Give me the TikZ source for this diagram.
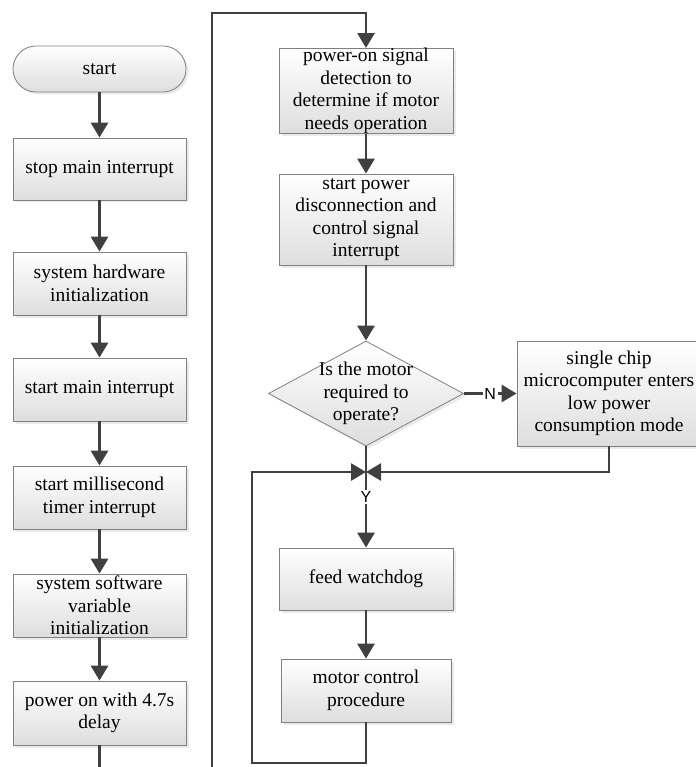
\documentclass[tikz,border=0pt]{standalone}
\usepackage{fontspec}
\setmainfont{Liberation Serif}
\newfontfamily\lblfont{Liberation Sans}
\usetikzlibrary{arrows.meta,shapes.geometric,shadows,calc}
\begin{document}
\begin{tikzpicture}[x=1pt,y=-1pt,
  boxfill/.style={draw=black!50, line width=0.8pt, top color=white, bottom color=black!13,
    drop shadow={shadow xshift=2.5pt,shadow yshift=-2.5pt,fill=black!16}},
  box/.style={boxfill, align=center, inner xsep=2pt, inner ysep=0pt,
    font=\fontsize{19.5}{22.5}\selectfont},
  dshape/.style={boxfill, shape=diamond, inner sep=0pt},
  txt/.style={align=center, inner sep=0pt, font=\fontsize{19.5}{22.5}\selectfont},
  flow/.style={draw=black!75, line width=2.8pt, -{Triangle[length=15pt,width=17pt]}},
  plain/.style={draw=black!75, line width=2.8pt},
  yn/.style={font=\lblfont\fontsize{16}{16}\selectfont, fill=white, inner sep=1.5pt}
]
\useasboundingbox (0,0) rectangle (695,767);

% left column
\node[box, rounded corners=23pt, minimum width=173pt, minimum height=46pt] (start) at (99.5,69) {start};
\node[box, minimum width=173pt, minimum height=62pt] (stop) at (99.5,169) {stop main interrupt};
\node[box, minimum width=173pt, minimum height=63pt] (hw) at (99.5,283.5) {system hardware\\initialization};
\node[box, minimum width=173pt, minimum height=63pt] (smi) at (99.5,389.5) {start main interrupt};
\node[box, minimum width=173pt, minimum height=63pt] (ms) at (99.5,497.5) {start millisecond\\timer interrupt};
\node[box, minimum width=173pt, minimum height=63pt] (sw) at (99.5,605.5) {system software\\variable\\initialization};
\node[box, minimum width=173pt, minimum height=64pt] (po) at (99.5,713) {power on with 4.7s\\delay};

% right column
\node[box, minimum width=174pt, minimum height=84pt] (b1) at (366,91) {power-on signal\\detection to\\determine if motor\\needs operation};
\node[box, minimum width=174pt, minimum height=91pt] (b2) at (366,219.5) {start power\\disconnection and\\control signal\\interrupt};
\node[dshape, minimum width=195pt, minimum height=105pt] (dia) at (366,393.5) {};
\node[txt] (dtext) at (dia.center) {Is the motor\\required to\\operate?};
\node[box, minimum width=184pt, minimum height=105pt] (nbox) at (609,393.5) {single chip\\microcomputer enters\\low power\\consumption mode};
\node[box, minimum width=174pt, minimum height=62pt] (feed) at (366,579) {feed watchdog};
\node[box, minimum width=170pt, minimum height=63pt] (motor) at (366,690.5) {motor control\\procedure};

% coordinates
\coordinate (poout) at (99.5,767);
\coordinate (loopin) at (212,767);
\coordinate (tl) at (212,13);
\coordinate (jn) at (366,472);
\coordinate (lb) at (252,763);

% connectors
\draw[flow] (start) -- (stop);
\draw[flow] (stop) -- (hw);
\draw[flow] (hw) -- (smi);
\draw[flow] (smi) -- (ms);
\draw[flow] (ms) -- (sw);
\draw[flow] (sw) -- (po);
\draw[plain] (po.south) -- (poout);
\draw[flow] (loopin) -- (tl) -| (b1.north);
\draw[flow] (b1) -- (b2);
\draw[flow] (b2) -- (dia.north);
\draw[flow] (dia.east) -- node[yn]{N} (nbox.west);
\draw[flow] (dia.south) -- node[yn]{Y} (feed.north);
\draw[flow] (nbox.south) |- (jn);
\draw[flow] (feed) -- (motor);
\draw[flow] (motor.south) |- (lb) |- (jn);
\end{tikzpicture}
\end{document}
